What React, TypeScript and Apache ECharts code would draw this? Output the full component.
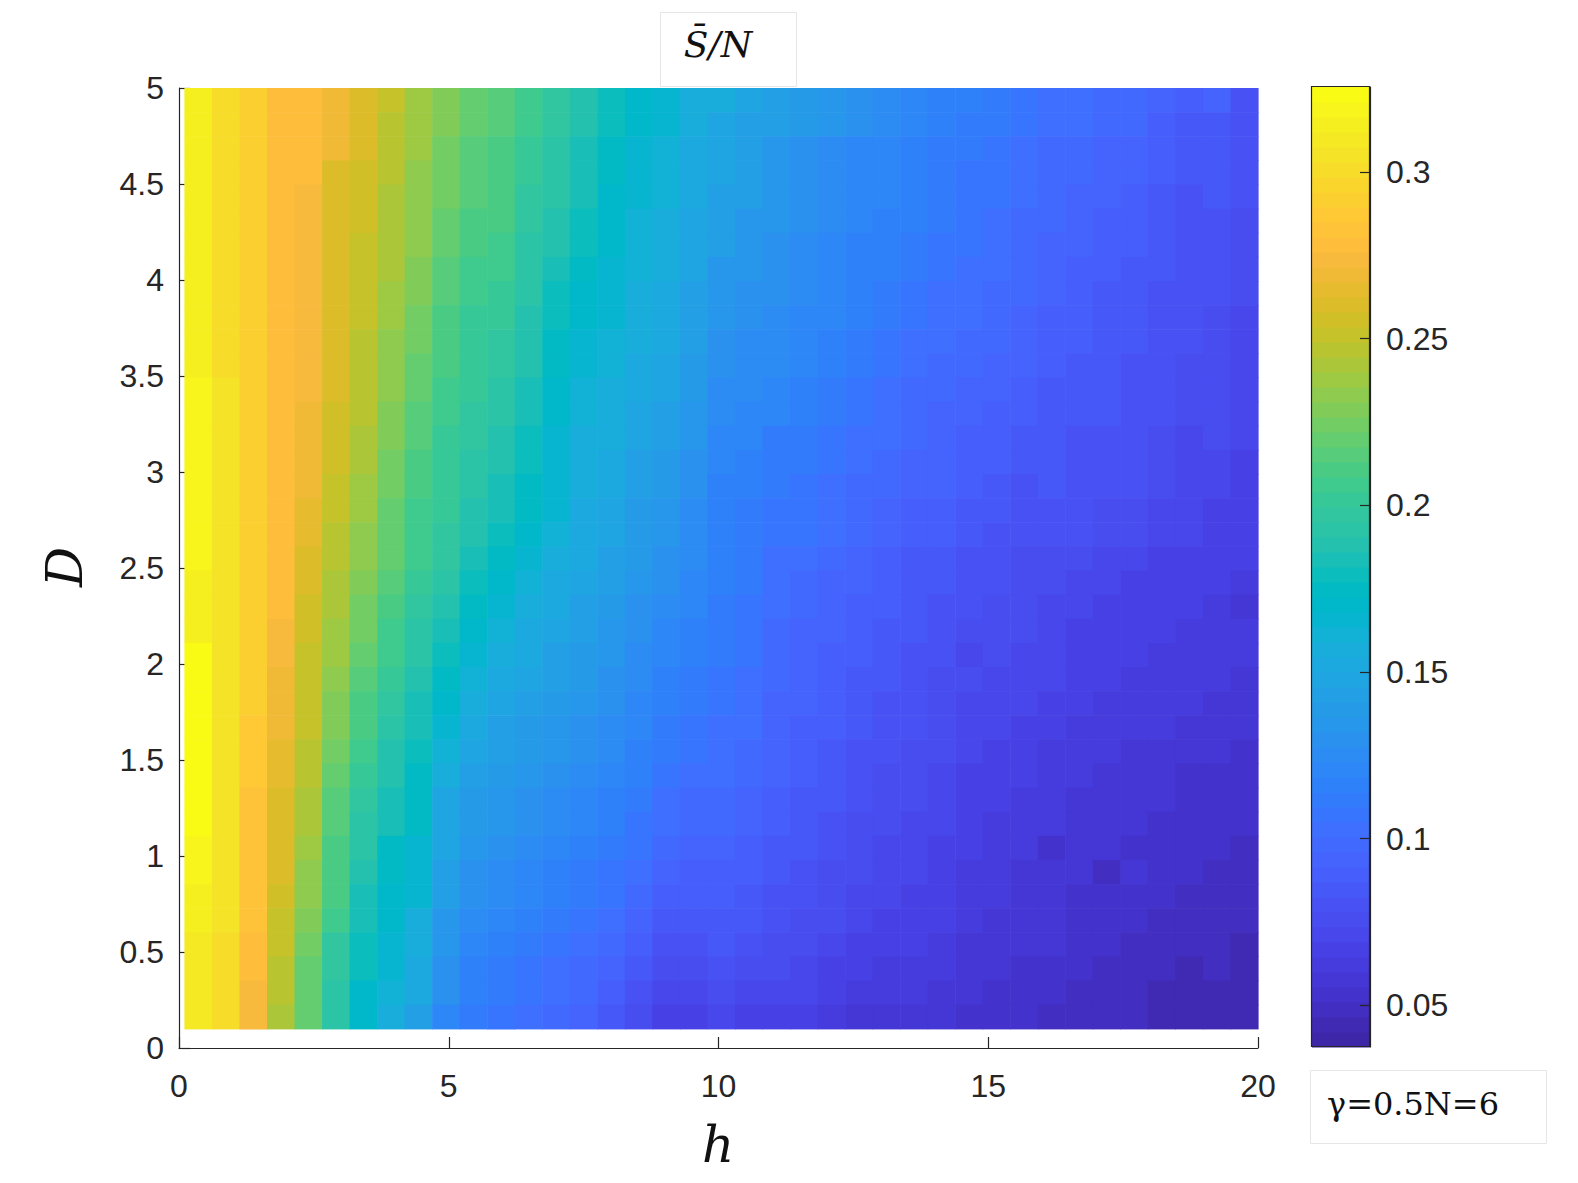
import React, { useEffect, useRef } from "react";
import * as echarts from "echarts";

// ---- grid definition (pcolor cells) ----
const H_RANGE = [0.1, 20];
const D_RANGE = [0.1, 5];
const N_H = 39;
const N_D = 39;
const X_MAX = 20;
const X_INTERVAL = 5;
const Y_MAX = 5;
const Y_INTERVAL = 0.5;

// ---- colour bar ----
const CB_RANGE = [0.0375, 0.3255];
const CB_TICKS = [0.05, 0.1, 0.15, 0.2, 0.25, 0.3];

// ---- texts ----
const TITLE = "S\u0304/N";
const ANNOTATION = "γ=0.5N=6";
const X_NAME = "h";
const Y_NAME = "D";

// ---- S/N values, one list per h column, each read from the top row (D≈4.94) down to the bottom row (D≈0.16) ----
const S_C0 = [.314,.314,.314,.314,.314,.314,.314,.314,.314,.314,.314,.314,.319,.319,.319,.319,.319,.319,.319,.319,.314,.314,.314,.323,.323,.323,.323,.323,.323,.323,.323,.319,.319,.314,.314,.310,.310,.310,.310];
const S_C1 = [.301,.301,.301,.301,.301,.301,.301,.301,.301,.301,.301,.301,.305,.305,.305,.305,.305,.305,.305,.305,.305,.305,.305,.305,.305,.305,.305,.305,.305,.305,.305,.305,.305,.305,.305,.301,.301,.301,.301];
const S_C2 = [.292,.292,.292,.292,.292,.292,.292,.292,.292,.292,.292,.292,.292,.292,.292,.292,.292,.292,.292,.292,.292,.292,.292,.292,.292,.292,.287,.287,.287,.283,.283,.283,.283,.283,.283,.278,.278,.274,.274];
const S_C3 = [.278,.278,.278,.278,.278,.278,.278,.278,.278,.278,.278,.278,.278,.278,.278,.278,.278,.278,.278,.278,.278,.278,.274,.274,.269,.269,.269,.265,.265,.260,.260,.260,.260,.256,.251,.251,.247,.247,.242];
const S_C4 = [.278,.278,.278,.278,.274,.274,.274,.274,.274,.274,.274,.274,.274,.269,.269,.269,.269,.265,.265,.260,.260,.256,.256,.251,.251,.251,.251,.247,.247,.242,.242,.238,.233,.233,.229,.224,.220,.220,.220];
const S_C5 = [.269,.269,.269,.260,.260,.260,.260,.260,.260,.260,.260,.260,.260,.256,.256,.256,.251,.251,.247,.247,.242,.242,.238,.238,.233,.229,.229,.224,.220,.215,.215,.211,.211,.211,.206,.197,.197,.193,.193];
const S_C6 = [.260,.260,.260,.256,.256,.256,.251,.251,.251,.251,.247,.247,.247,.247,.242,.242,.238,.238,.233,.233,.229,.224,.224,.220,.215,.211,.211,.206,.202,.197,.193,.193,.188,.184,.184,.179,.179,.170,.170];
const S_C7 = [.251,.247,.247,.247,.242,.242,.242,.242,.238,.238,.233,.233,.233,.229,.229,.224,.224,.220,.220,.220,.215,.211,.206,.206,.202,.197,.193,.188,.188,.184,.184,.175,.175,.170,.170,.166,.166,.161,.157];
const S_C8 = [.238,.238,.238,.233,.233,.233,.233,.229,.229,.224,.224,.220,.220,.215,.215,.211,.211,.206,.206,.206,.202,.197,.193,.193,.188,.184,.184,.179,.175,.175,.175,.166,.166,.166,.157,.157,.152,.152,.143];
const S_C9 = [.229,.229,.224,.224,.224,.220,.220,.215,.215,.211,.211,.211,.206,.206,.202,.202,.202,.202,.197,.197,.193,.188,.184,.179,.175,.170,.166,.161,.157,.148,.148,.148,.143,.143,.134,.134,.130,.130,.121];
const S_C10 = [.220,.220,.215,.215,.215,.211,.211,.206,.206,.202,.202,.202,.202,.197,.197,.193,.193,.188,.188,.184,.179,.175,.170,.166,.161,.157,.152,.148,.143,.139,.139,.134,.130,.130,.125,.121,.116,.116,.112];
const S_C11 = [.215,.215,.211,.211,.211,.211,.206,.206,.202,.202,.197,.197,.193,.193,.188,.188,.184,.184,.179,.175,.170,.166,.161,.157,.152,.148,.143,.143,.139,.134,.134,.130,.125,.125,.121,.116,.112,.112,.107];
const S_C12 = [.206,.206,.202,.202,.197,.197,.193,.193,.193,.188,.188,.188,.184,.184,.179,.179,.175,.175,.170,.166,.161,.157,.152,.152,.148,.143,.139,.139,.134,.130,.130,.125,.121,.121,.116,.112,.107,.107,.103];
const S_C13 = [.197,.197,.193,.193,.193,.188,.188,.184,.179,.179,.175,.175,.170,.170,.166,.166,.166,.166,.161,.157,.152,.152,.148,.143,.143,.139,.134,.134,.130,.125,.125,.121,.116,.116,.112,.107,.103,.103,.098];
const S_C14 = [.188,.188,.184,.184,.184,.179,.179,.175,.170,.170,.166,.166,.161,.161,.157,.157,.157,.152,.152,.152,.148,.143,.143,.139,.139,.134,.130,.130,.125,.121,.121,.116,.112,.112,.107,.103,.098,.098,.094];
const S_C15 = [.179,.179,.175,.175,.170,.170,.170,.166,.166,.166,.161,.161,.157,.157,.157,.152,.152,.148,.148,.143,.143,.139,.134,.134,.130,.130,.125,.125,.121,.116,.116,.112,.107,.107,.103,.098,.094,.089,.085];
const S_C16 = [.170,.170,.166,.166,.166,.161,.161,.161,.157,.157,.157,.152,.152,.148,.148,.143,.143,.139,.139,.139,.134,.130,.130,.125,.125,.121,.121,.116,.116,.112,.107,.107,.103,.098,.094,.089,.085,.080,.076];
const S_C17 = [.166,.166,.161,.161,.161,.157,.157,.157,.152,.152,.152,.148,.148,.143,.143,.139,.139,.134,.134,.130,.130,.125,.121,.121,.116,.116,.112,.112,.107,.103,.103,.098,.094,.089,.085,.080,.076,.071,.067];
const S_C18 = [.157,.157,.152,.152,.152,.148,.148,.148,.143,.143,.143,.139,.139,.134,.134,.130,.130,.125,.125,.125,.121,.121,.116,.116,.112,.112,.107,.107,.103,.098,.098,.094,.089,.089,.085,.080,.076,.071,.067];
const S_C19 = [.157,.148,.148,.148,.143,.143,.143,.134,.134,.134,.130,.130,.125,.125,.121,.121,.116,.116,.116,.116,.116,.112,.112,.112,.107,.107,.103,.103,.103,.098,.098,.094,.089,.089,.085,.085,.080,.076,.071];
const S_C20 = [.148,.143,.143,.143,.143,.134,.134,.134,.130,.130,.125,.125,.125,.121,.121,.116,.116,.112,.112,.112,.112,.107,.107,.107,.103,.103,.103,.098,.098,.094,.094,.089,.089,.085,.085,.080,.076,.071,.067];
const S_C21 = [.143,.143,.134,.134,.134,.134,.130,.130,.130,.125,.125,.125,.121,.121,.112,.112,.112,.107,.107,.103,.103,.103,.098,.098,.098,.094,.094,.094,.094,.089,.089,.085,.085,.080,.080,.076,.076,.071,.067];
const S_C22 = [.139,.139,.130,.130,.130,.130,.125,.125,.125,.121,.121,.121,.116,.116,.112,.112,.107,.107,.107,.103,.098,.098,.094,.094,.094,.094,.089,.089,.089,.085,.085,.085,.080,.080,.076,.076,.071,.071,.067];
const S_C23 = [.134,.134,.125,.125,.125,.125,.121,.121,.121,.121,.116,.116,.112,.112,.107,.107,.103,.103,.103,.098,.094,.094,.094,.089,.089,.089,.089,.085,.085,.085,.080,.080,.076,.076,.076,.071,.067,.067,.062];
const S_C24 = [.130,.130,.121,.121,.121,.121,.116,.116,.116,.116,.112,.112,.107,.107,.103,.103,.098,.098,.098,.094,.094,.089,.089,.089,.085,.085,.085,.080,.080,.080,.076,.076,.076,.071,.071,.067,.067,.062,.058];
const S_C25 = [.125,.125,.121,.121,.121,.116,.116,.116,.112,.112,.107,.107,.103,.103,.103,.098,.098,.094,.094,.089,.089,.089,.085,.085,.085,.080,.080,.080,.076,.076,.076,.071,.071,.071,.067,.067,.062,.062,.058];
const S_C26 = [.121,.121,.116,.116,.116,.116,.112,.112,.107,.107,.103,.103,.098,.098,.098,.094,.094,.089,.089,.085,.085,.085,.085,.080,.080,.080,.080,.076,.076,.076,.071,.071,.071,.067,.067,.067,.062,.062,.058];
const S_C27 = [.116,.116,.112,.112,.112,.112,.107,.107,.103,.103,.103,.098,.098,.094,.094,.094,.094,.089,.089,.085,.085,.080,.080,.080,.076,.076,.076,.076,.071,.071,.071,.067,.067,.067,.067,.062,.062,.058,.058];
const S_C28 = [.116,.112,.112,.107,.107,.107,.107,.103,.103,.103,.098,.098,.094,.094,.089,.089,.089,.085,.085,.080,.080,.080,.076,.071,.076,.071,.071,.071,.067,.067,.067,.067,.062,.062,.062,.058,.058,.058,.053];
const S_C29 = [.112,.112,.107,.107,.107,.103,.103,.103,.098,.098,.098,.094,.094,.089,.089,.089,.085,.085,.080,.080,.080,.076,.076,.076,.071,.071,.071,.067,.067,.067,.062,.062,.062,.062,.058,.058,.058,.053,.053];
const S_C30 = [.107,.107,.103,.103,.103,.098,.098,.098,.098,.094,.094,.094,.089,.089,.085,.085,.080,.080,.080,.076,.076,.076,.076,.071,.071,.071,.067,.067,.067,.062,.062,.062,.058,.058,.058,.058,.053,.053,.053];
const S_C31 = [.103,.103,.098,.098,.098,.098,.094,.094,.094,.089,.089,.089,.085,.085,.085,.085,.085,.080,.080,.076,.076,.071,.071,.071,.071,.067,.067,.062,.062,.062,.062,.053,.058,.058,.058,.058,.053,.053,.049];
const S_C32 = [.103,.103,.098,.098,.094,.094,.094,.089,.089,.089,.089,.085,.085,.085,.080,.080,.080,.080,.080,.076,.071,.071,.067,.067,.067,.067,.062,.062,.062,.058,.058,.058,.058,.053,.053,.053,.053,.049,.049];
const S_C33 = [.098,.098,.094,.094,.094,.089,.089,.089,.085,.085,.085,.085,.085,.085,.080,.080,.080,.076,.076,.071,.071,.067,.067,.067,.067,.062,.062,.062,.058,.058,.058,.058,.049,.053,.053,.053,.049,.049,.049];
const S_C34 = [.098,.098,.094,.094,.089,.089,.089,.085,.085,.085,.085,.080,.080,.080,.080,.080,.080,.076,.076,.071,.067,.067,.067,.067,.062,.062,.062,.058,.058,.058,.058,.053,.058,.053,.053,.049,.049,.049,.049];
const S_C35 = [.094,.089,.089,.089,.085,.085,.085,.085,.080,.080,.080,.080,.080,.080,.076,.076,.076,.071,.071,.067,.067,.067,.067,.062,.062,.062,.062,.058,.058,.058,.053,.053,.053,.053,.049,.049,.049,.044,.044];
const S_C36 = [.089,.085,.085,.085,.080,.080,.080,.080,.080,.080,.080,.076,.076,.076,.071,.071,.071,.071,.071,.067,.067,.067,.062,.062,.062,.062,.058,.058,.053,.053,.053,.053,.053,.049,.049,.049,.044,.044,.044];
const S_C37 = [.094,.085,.085,.085,.085,.080,.080,.080,.080,.076,.076,.076,.076,.076,.076,.071,.071,.067,.067,.067,.067,.062,.062,.062,.062,.058,.058,.058,.053,.053,.053,.053,.049,.049,.049,.049,.049,.044,.044];
const S_C38 = [.080,.080,.080,.080,.080,.076,.076,.076,.076,.071,.071,.071,.071,.071,.071,.067,.067,.067,.067,.067,.062,.058,.062,.062,.058,.058,.058,.053,.053,.053,.053,.049,.049,.049,.049,.044,.044,.044,.044];

const S_COLUMNS = [
  S_C0, S_C1, S_C2, S_C3, S_C4, S_C5, S_C6, S_C7, S_C8, S_C9,
  S_C10, S_C11, S_C12, S_C13, S_C14, S_C15, S_C16, S_C17, S_C18, S_C19,
  S_C20, S_C21, S_C22, S_C23, S_C24, S_C25, S_C26, S_C27, S_C28, S_C29,
  S_C30, S_C31, S_C32, S_C33, S_C34, S_C35, S_C36, S_C37, S_C38,
];

// ---- parula colormap (64 levels) ----
const PARULA = [
  [0.2422,0.1504,0.6603],[0.2504,0.1650,0.7076],[0.2578,0.1818,0.7511],[0.2647,0.1978,0.7952],
  [0.2706,0.2147,0.8364],[0.2751,0.2342,0.8710],[0.2783,0.2559,0.8991],[0.2803,0.2782,0.9221],
  [0.2813,0.3006,0.9414],[0.2810,0.3228,0.9579],[0.2795,0.3447,0.9717],[0.2760,0.3667,0.9829],
  [0.2699,0.3892,0.9906],[0.2602,0.4123,0.9952],[0.2440,0.4358,0.9988],[0.2206,0.4603,0.9973],
  [0.1963,0.4847,0.9892],[0.1834,0.5074,0.9798],[0.1786,0.5289,0.9682],[0.1764,0.5499,0.9520],
  [0.1687,0.5703,0.9359],[0.1540,0.5902,0.9218],[0.1460,0.6091,0.9079],[0.1380,0.6276,0.8973],
  [0.1248,0.6459,0.8883],[0.1113,0.6635,0.8763],[0.0952,0.6798,0.8598],[0.0689,0.6948,0.8394],
  [0.0297,0.7082,0.8163],[0.0036,0.7199,0.7917],[0.0067,0.7300,0.7660],[0.0433,0.7394,0.7394],
  [0.0964,0.7489,0.7120],[0.1408,0.7584,0.6842],[0.1717,0.7670,0.6554],[0.1938,0.7758,0.6251],
  [0.2161,0.7843,0.5923],[0.2470,0.7918,0.5567],[0.2906,0.7973,0.5188],[0.3406,0.8008,0.4789],
  [0.3909,0.8029,0.4354],[0.4456,0.8024,0.3909],[0.5044,0.7993,0.3480],[0.5616,0.7942,0.3045],
  [0.6174,0.7876,0.2612],[0.6720,0.7793,0.2227],[0.7242,0.7698,0.1910],[0.7738,0.7598,0.1646],
  [0.8203,0.7498,0.1535],[0.8634,0.7406,0.1596],[0.9035,0.7330,0.1774],[0.9393,0.7288,0.2100],
  [0.9728,0.7298,0.2394],[0.9956,0.7434,0.2371],[0.9970,0.7659,0.2199],[0.9952,0.7893,0.2028],
  [0.9892,0.8136,0.1885],[0.9786,0.8386,0.1766],[0.9676,0.8639,0.1643],[0.9610,0.8890,0.1537],
  [0.9597,0.9135,0.1423],[0.9628,0.9373,0.1265],[0.9691,0.9606,0.1064],[0.9769,0.9839,0.0805],
];

const toHex = (c: number[]) =>
  "#" + c.map((x) => Math.round(x * 255).toString(16).padStart(2, "0")).join("");
const PALETTE = PARULA.map(toHex);

const colorOf = (v: number) => {
  const n = PALETTE.length;
  let k = Math.floor(((v - CB_RANGE[0]) / (CB_RANGE[1] - CB_RANGE[0])) * n);
  if (k < 0) k = 0;
  if (k > n - 1) k = n - 1;
  return PALETTE[k];
};

const AXIS_COLOR = "#262626";
const TICK_FONT = "'Liberation Sans', Arial, Helvetica, sans-serif";
const MATH_FONT = "'DejaVu Serif', 'Liberation Serif', serif";

export default function App() {
  const ref = useRef<HTMLDivElement>(null);

  useEffect(() => {
    if (!ref.current) return;
    const chart = echarts.init(ref.current, null, { renderer: "svg" });

    const dh = (H_RANGE[1] - H_RANGE[0]) / N_H;
    const dd = (D_RANGE[1] - D_RANGE[0]) / N_D;

    const heatData: number[][] = [];
    S_COLUMNS.forEach((col, c) => {
      col.forEach((v, t) => {
        const h = H_RANGE[0] + (c + 0.5) * dh;
        const d = D_RANGE[1] - (t + 0.5) * dd;
        heatData.push([h, d, v]);
      });
    });

    const cbStep = (CB_RANGE[1] - CB_RANGE[0]) / PALETTE.length;
    const cbData = PALETTE.map((_, k) => [0.5, CB_RANGE[0] + (k + 0.5) * cbStep, k]);

    chart.setOption({
      animation: false,
      backgroundColor: "#ffffff",
      grid: [
        { left: 179, top: 88, width: 1079, height: 960, containLabel: false },
        { left: 1312, top: 87, width: 58, height: 960, containLabel: false },
      ],
      xAxis: [
        {
          gridIndex: 0,
          type: "value",
          min: 0,
          max: X_MAX,
          interval: X_INTERVAL,
          axisLine: { show: true, onZero: false, lineStyle: { color: AXIS_COLOR, width: 1.2 } },
          axisTick: { show: true, inside: true, length: 11, lineStyle: { color: AXIS_COLOR, width: 1.2 } },
          axisLabel: { color: AXIS_COLOR, fontSize: 32, fontFamily: TICK_FONT, margin: 22 },
          splitLine: { show: false },
        },
        { gridIndex: 1, type: "value", min: 0, max: 1, show: false },
      ],
      yAxis: [
        {
          gridIndex: 0,
          type: "value",
          min: 0,
          max: Y_MAX,
          interval: Y_INTERVAL,
          axisLine: { show: true, onZero: false, lineStyle: { color: AXIS_COLOR, width: 1.2 } },
          axisTick: { show: true, inside: true, length: 11, lineStyle: { color: AXIS_COLOR, width: 1.2 } },
          axisLabel: { color: AXIS_COLOR, fontSize: 32, fontFamily: TICK_FONT, margin: 15 },
          splitLine: { show: false },
        },
        {
          gridIndex: 1,
          type: "value",
          position: "right",
          z: 10,
          min: CB_RANGE[0],
          max: CB_RANGE[1],
          axisLine: { show: true, onZero: false, lineStyle: { color: AXIS_COLOR, width: 1.2 } },
          axisTick: {
            show: true,
            inside: true,
            length: 10,
            customValues: CB_TICKS,
            lineStyle: { color: AXIS_COLOR, width: 1.2 },
          },
          axisLabel: {
            show: true,
            customValues: CB_TICKS,
            color: AXIS_COLOR,
            fontSize: 32,
            fontFamily: TICK_FONT,
            margin: 16,
            formatter: (v: number) => String(Math.round(v * 100) / 100),
          },
          splitLine: { show: false },
        },
      ],
      series: [
        {
          type: "custom",
          coordinateSystem: "cartesian2d",
          xAxisIndex: 0,
          yAxisIndex: 0,
          data: heatData,
          silent: true,
          z: 3,
          renderItem: (_params: any, api: any) => {
            const h = api.value(0);
            const d = api.value(1);
            const v = api.value(2);
            const a = api.coord([h - dh / 2, d + dd / 2]);
            const b = api.coord([h + dh / 2, d - dd / 2]);
            return {
              type: "rect",
              shape: { x: a[0], y: a[1], width: b[0] - a[0] + 0.6, height: b[1] - a[1] + 0.6 },
              style: { fill: colorOf(v) },
            };
          },
        },
        {
          type: "custom",
          coordinateSystem: "cartesian2d",
          xAxisIndex: 1,
          yAxisIndex: 1,
          data: cbData,
          silent: true,
          z: 1,
          renderItem: (_params: any, api: any) => {
            const y = api.value(1);
            const k = api.value(2);
            const a = api.coord([0, y + cbStep / 2]);
            const b = api.coord([1, y - cbStep / 2]);
            return {
              type: "rect",
              shape: { x: a[0], y: a[1], width: b[0] - a[0], height: b[1] - a[1] + 0.5 },
              style: { fill: PALETTE[k] },
            };
          },
        },
      ],
      graphic: [
        {
          type: "rect",
          z: 100,
          shape: { x: 1311.5, y: 86.5, width: 58, height: 960 },
          style: { fill: "none", stroke: AXIS_COLOR, lineWidth: 1.2 },
        },
        {
          type: "rect",
          z: 50,
          shape: { x: 660.5, y: 12.5, width: 136, height: 74 },
          style: { fill: "#ffffff", stroke: "#e6e6e6", lineWidth: 1 },
        },
        {
          type: "text",
          z: 51,
          x: 718,
          y: 44,
          style: {
            text: TITLE,
            fontSize: 36,
            fontStyle: "italic",
            fontFamily: MATH_FONT,
            fill: "#111111",
            align: "center",
            verticalAlign: "middle",
          },
        },
        {
          type: "rect",
          z: 50,
          shape: { x: 1310.5, y: 1070.5, width: 236, height: 73 },
          style: { fill: "#ffffff", stroke: "#e6e6e6", lineWidth: 1 },
        },
        {
          type: "text",
          z: 51,
          x: 1327,
          y: 1104,
          style: {
            text: ANNOTATION,
            fontSize: 32,
            fontFamily: MATH_FONT,
            fill: "#111111",
            align: "left",
            verticalAlign: "middle",
          },
        },
        {
          type: "text",
          z: 51,
          x: 718,
          y: 1145,
          style: {
            text: X_NAME,
            fontSize: 50,
            fontStyle: "italic",
            fontFamily: MATH_FONT,
            fill: "#111111",
            align: "center",
            verticalAlign: "middle",
          },
        },
        {
          type: "text",
          z: 51,
          x: 65,
          y: 567,
          rotation: Math.PI / 2,
          style: {
            text: Y_NAME,
            fontSize: 50,
            fontStyle: "italic",
            fontFamily: MATH_FONT,
            fill: "#111111",
            align: "center",
            verticalAlign: "middle",
          },
        },
      ],
    });

    return () => {
      chart.dispose();
    };
  }, []);

  return (
    <div
      ref={ref}
      style={{ position: "absolute", left: 0, top: 0, width: 1578, height: 1183, background: "#fff" }}
    />
  );
}
